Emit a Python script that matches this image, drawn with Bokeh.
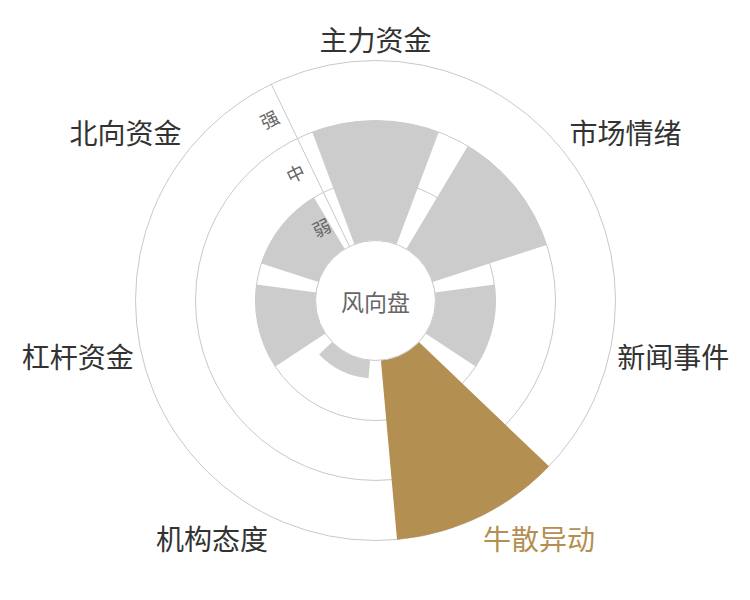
import numpy as np
from bokeh.plotting import figure
from bokeh.models import Range1d, ColumnDataSource
from bokeh.core.properties import value
from bokeh.embed import file_html
from bokeh.resources import INLINE

# ---- data ----
categories = ["主力资金", "市场情绪", "新闻事件", "牛散异动", "机构态度", "杠杆资金", "北向资金"]
values = [2, 2, 1, 3, 0.3, 1, 1]
levels = ["弱", "中", "强"]
highlight = "牛散异动"
center_label = "风向盘"

# ---- styling / layout ----
FONT = "Noto Sans CJK SC"
GRAY = "#cccccc"
GOLD = "#b48f52"
LINE = "#c8c8c8"
W, H = 734, 584
CX, CY = 375, 300                    # chart center in canvas pixels
R0 = 60                              # inner hole radius
BAND = 60                            # radius per level
RMAX = R0 + BAND * len(levels)
n = len(categories)
slot = 2 * np.pi / n
bar_frac = 0.8

p = figure(width=W, height=H, output_backend="svg", toolbar_location=None,
           x_range=Range1d(-CX, W - CX), y_range=Range1d(-(H - CY), CY),
           x_axis_type=None, y_axis_type=None, min_border=0)
p.grid.visible = False
p.outline_line_color = None
p.background_fill_color = "white"

# split circles
ring_r = [R0 + BAND * (k + 1) for k in range(len(levels))]
p.circle(x=[0] * len(ring_r), y=[0] * len(ring_r), radius=ring_r,
         fill_color=None, line_color=LINE, line_width=1)

# bars
centers = np.pi / 2 - slot * np.arange(n)
src = ColumnDataSource(dict(
    cat=categories,
    outer=[R0 + BAND * v for v in values],
    start=list(centers - slot * bar_frac / 2),
    end=list(centers + slot * bar_frac / 2),
    color=[GOLD if c == highlight else GRAY for c in categories],
))
p.annular_wedge(x=0, y=0, inner_radius=R0, outer_radius="outer",
                start_angle="start", end_angle="end",
                fill_color="color", line_color=None, source=src)

# center disk
p.circle(x=[0], y=[0], radius=[R0], fill_color="white", line_color=LINE, line_width=1)
p.text(x=[0], y=[0], text=[center_label], text_font=value(FONT),
       text_font_size="23px", text_color="#666666",
       text_align="center", text_baseline="middle")

# radial axis line at slot boundary
th = np.pi / 2 + slot / 2
p.segment(x0=[R0 * np.cos(th)], y0=[R0 * np.sin(th)],
          x1=[RMAX * np.cos(th)], y1=[RMAX * np.sin(th)],
          line_color=LINE, line_width=1)

# radial axis labels
lab_r = np.array([R0 + BAND * (k + 0.5) for k in range(len(levels))])
off = 17
lx = lab_r * np.cos(th) + off * np.cos(th + np.pi / 2)
ly = lab_r * np.sin(th) + off * np.sin(th + np.pi / 2)
p.text(x=list(lx), y=list(ly), text=levels, angle=th - np.pi / 2,
       text_font=value(FONT), text_font_size="18px", text_color="#666666",
       text_align="center", text_baseline="middle")

# category labels
RL = RMAX + 8
for c, a in zip(categories, centers):
    ca, sa = np.cos(a), np.sin(a)
    if ca > 0.2:
        align = "left"
    elif ca < -0.2:
        align = "right"
    else:
        align = "center"
    yoff = 0
    if sa > 0.3:
        yoff = 14
    elif sa < -0.3:
        yoff = -14
    p.text(x=[RL * ca], y=[RL * sa + yoff], text=[c], text_font=value(FONT),
           text_font_size="28px",
           text_color=GOLD if c == highlight else "#333333",
           text_align=align, text_baseline="middle")

open("out.html", "w").write(file_html(p, INLINE))
